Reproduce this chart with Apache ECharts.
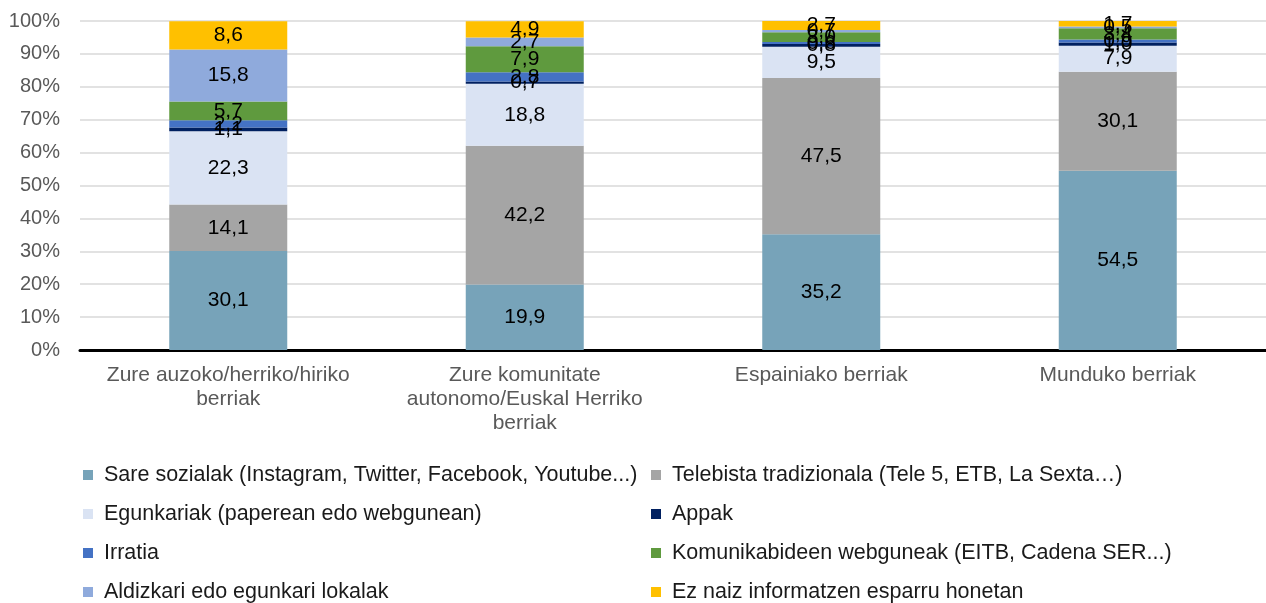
<!DOCTYPE html>
<html>
<head>
<meta charset="utf-8">
<script src="https://cdn.jsdelivr.net/npm/echarts@6/dist/echarts.min.js"></script>
<style>
  html, body { margin: 0; padding: 0; background: #fff; }
  #chart { width: 1266px; height: 603px; }
</style>
</head>
<body>
<div id="chart"></div>
<script>
'use strict';

const categories = [
    'Zure auzoko/herriko/hiriko\nberriak',
    'Zure komunitate\nautonomo/Euskal Herriko\nberriak',
    'Espainiako berriak',
    'Munduko berriak'
];

const seriesNames = [
    'Sare sozialak (Instagram, Twitter, Facebook, Youtube...)',
    'Telebista tradizionala (Tele 5, ETB, La Sexta…)',
    'Egunkariak (paperean edo webgunean)',
    'Appak',
    'Irratia',
    'Komunikabideen webguneak (EITB, Cadena SER...)',
    'Aldizkari edo egunkari lokalak',
    'Ez naiz informatzen esparru honetan'
];

const sareSozialak = [30.1, 19.9, 35.2, 54.5];
const telebista = [14.1, 42.2, 47.5, 30.1];
const egunkariak = [22.3, 18.8, 9.5, 7.9];
const appak = [1.1, 0.7, 0.8, 1.0];
const irratia = [2.2, 2.8, 0.6, 0.9];
const webguneak = [5.7, 7.9, 3.0, 3.4];
const aldizkari = [15.8, 2.7, 0.7, 0.5];
const ezNaiz = [8.6, 4.9, 2.7, 1.7];

const seriesValues = [sareSozialak, telebista, egunkariak, appak, irratia, webguneak, aldizkari, ezNaiz];
const colors = ['#77A3B9', '#A5A5A5', '#DAE3F3', '#002060', '#4472C4', '#5F9A3E', '#8FAADC', '#FFC000'];

const font = 'Liberation Sans, Arial, sans-serif';

const legendBase = {
    orient: 'vertical',
    height: 170,
    itemWidth: 10,
    itemHeight: 10,
    itemGap: 17,
    icon: 'rect',
    textStyle: { fontFamily: font, fontSize: 21.5, color: '#1a1a1a', padding: [0, 0, 0, 6] },
    selectedMode: false
};

const option = {
    animation: false,
    color: colors,
    grid: { left: 80, right: 0, top: 21, bottom: 253, containLabel: false },
    legend: [
        Object.assign({ left: 78, top: 459, data: [seriesNames[0], seriesNames[2], seriesNames[4], seriesNames[6]] }, legendBase),
        Object.assign({ left: 646, top: 459, data: [seriesNames[1], seriesNames[3], seriesNames[5], seriesNames[7]] }, legendBase)
    ],
    xAxis: {
        type: 'category',
        data: categories,
        axisLine: { lineStyle: { color: '#000', width: 3 } },
        axisTick: { show: false },
        axisLabel: { interval: 0, fontFamily: font, fontSize: 21, color: '#595959', lineHeight: 24, margin: 13 }
    },
    yAxis: {
        type: 'value',
        min: 0,
        max: 100,
        interval: 10,
        axisLine: { show: false },
        axisTick: { show: false },
        splitLine: { lineStyle: { color: '#d9d9d9', width: 1.5 } },
        axisLabel: { formatter: '{value}%', fontFamily: font, fontSize: 20, color: '#595959', margin: 20 }
    },
    series: seriesValues.map((vals, i) => ({
        name: seriesNames[i],
        type: 'bar',
        stack: 'total',
        barWidth: 118,
        data: vals,
        label: {
            show: true,
            position: 'inside',
            fontFamily: font,
            fontSize: 21,
            color: '#000',
            formatter: (p) => p.value.toFixed(1).replace('.', ',')
        }
    }))
};

const chart = echarts.init(document.getElementById('chart'));
chart.setOption(option);
</script>
</body>
</html>
